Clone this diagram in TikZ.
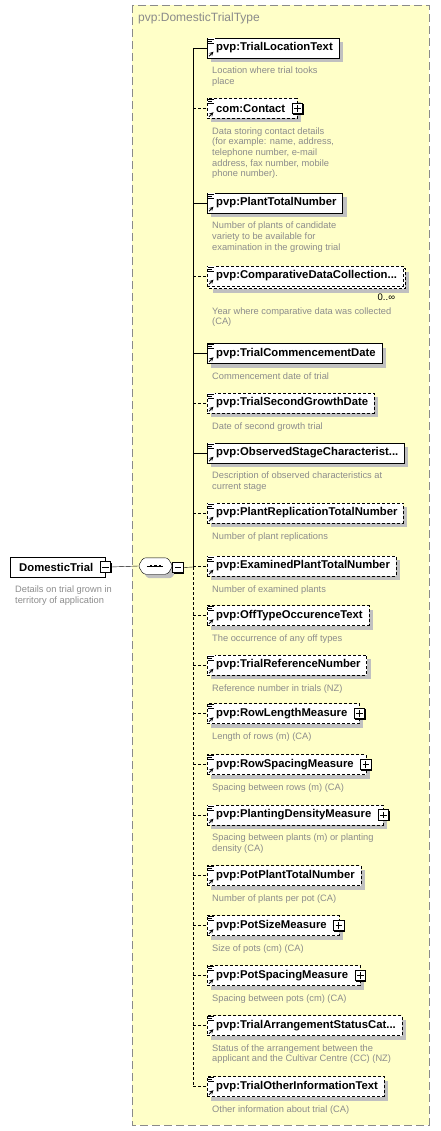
\documentclass[tikz,border=0pt]{standalone}
\usepackage{fontspec}
\setmainfont{Liberation Sans}
\usetikzlibrary{positioning,shadows}
\definecolor{frameyellow}{HTML}{FFFFC8}
\definecolor{framegray}{HTML}{8A8A8A}
\definecolor{descgray}{HTML}{8C8C8C}
\definecolor{shadowgray}{HTML}{C0C0C0}
\pgfdeclarelayer{bg}
\pgfdeclarelayer{back}
\pgfsetlayers{bg,back,main}

\begin{document}
\begin{tikzpicture}[x=1pt,y=-1pt,line width=0.8pt,
  sh/.style={drop shadow={shadow xshift=4pt,shadow yshift=-4pt,fill=shadowgray,opacity=1}},
  elembase/.style={draw,fill=white,minimum height=20pt,inner xsep=0pt,inner ysep=0pt,
    anchor=west,font=\fontsize{11.3}{13}\selectfont\bfseries,
    execute at begin node=\hspace*{9pt}},
  elem/.style={elembase,sh,execute at end node=\hspace*{6pt}},
  elemplus/.style={elembase,sh,execute at end node=\hspace*{12pt}},
  elemmulti/.style={elembase,execute at end node=\hspace*{6pt}},
  opt/.style={dash pattern=on 3pt off 2pt},
  desc/.style={inner sep=0pt,align=left,text=descgray,
    font=\fontsize{9.3}{10.7}\selectfont,execute at begin node=\strut},
  toggle/.style={draw,fill=white,minimum size=10.5pt,inner sep=0pt,line width=0.8pt,
    drop shadow={shadow xshift=0.8pt,shadow yshift=-0.8pt,fill=black,opacity=1}},
  minus/.style={toggle,path picture={
    \draw[line width=0.9pt] ([xshift=2pt]path picture bounding box.west) -- ([xshift=-2pt]path picture bounding box.east);}},
  plus/.style={toggle,path picture={
    \draw[line width=0.9pt] ([xshift=2pt]path picture bounding box.west) -- ([xshift=-2pt]path picture bounding box.east)
      ([yshift=-2pt]path picture bounding box.north) -- ([yshift=2pt]path picture bounding box.south);}},
  >=stealth
]
  \useasboundingbox (0,0) rectangle (440,1131);
  % type frame
  \begin{pgfonlayer}{bg}
    \draw[framegray,fill=frameyellow,dash pattern=on 8pt off 4pt] (132,5) rectangle (429,1125);
  \end{pgfonlayer}
  \node[anchor=west,inner sep=0pt,text=framegray,font=\fontsize{12}{14}\selectfont] (ttl) at (138,18) {pvp:DomesticTrialType};

  % root element and sequence
  \node[draw,fill=white,minimum height=20pt,inner xsep=0pt,anchor=west,font=\fontsize{11.3}{13}\selectfont\bfseries,
    execute at begin node=\hspace*{9pt},execute at end node=\hspace*{12pt}] (root) at (10,567) {DomesticTrial};
  \node[minus] (rootm) at (root.east) {};
  \node[desc,below right=8.5pt and 5pt of root.south west] (rootd) {Details on trial grown in\\territory of application};
  \node[minimum width=34pt,minimum height=16pt,inner sep=0pt] (seq) at (155.5,566) {};
  \path[draw,fill=white,rounded corners=2.5pt,sh]
    (seq.west) -- ([xshift=5pt]seq.north west) -- ([xshift=-5pt]seq.north east) -- (seq.east)
    -- ([xshift=-5pt]seq.south east) -- ([xshift=5pt]seq.south west) -- cycle;
  \node[minus] (seqm) at (178,567.5) {};
  \draw[line width=1pt] ([xshift=8.5pt]seq.west) -- ([xshift=-9.5pt]seq.east);
  \foreach \dx in {-4.5,0,4.5}
    \fill ([xshift=\dx pt]seq.center) ++(-1.3,-1.3) rectangle ++(2.6,2.6);
  \draw (rootm.east) -- (seq.west);

  % child elements
  \node[elem] (E1) at (207,48) {pvp:TrialLocationText};
  \node[elemplus,opt] (E2) at (207,108.5) {com:Contact};
  \node[elem] (E3) at (207,203) {pvp:PlantTotalNumber};
  \node[elemmulti,opt] (E4) at (207,276) {pvp:ComparativeDataCollection...};
  \node[elem] (E5) at (207,353.5) {pvp:TrialCommencementDate};
  \node[elem,opt] (E6) at (207,403) {pvp:TrialSecondGrowthDate};
  \node[elem] (E7) at (207,453) {pvp:ObservedStageCharacterist...};
  \node[elem,opt] (E8) at (207,513) {pvp:PlantReplicationTotalNumber};
  \node[elem,opt] (E9) at (207,566) {pvp:ExaminedPlantTotalNumber};
  \node[elem,opt] (E10) at (207,615.5) {pvp:OffTypeOccurenceText};
  \node[elem,opt] (E11) at (207,665) {pvp:TrialReferenceNumber};
  \node[elemplus,opt] (E12) at (207,713.5) {pvp:RowLengthMeasure};
  \node[elemplus,opt] (E13) at (207,764.5) {pvp:RowSpacingMeasure};
  \node[elemplus,opt] (E14) at (207,815) {pvp:PlantingDensityMeasure};
  \node[elem,opt] (E15) at (207,875.5) {pvp:PotPlantTotalNumber};
  \node[elemplus,opt] (E16) at (207,925.5) {pvp:PotSizeMeasure};
  \node[elemplus,opt] (E17) at (207,975.5) {pvp:PotSpacingMeasure};
  \node[elem,opt] (E18) at (207,1025.5) {pvp:TrialArrangementStatusCat...};
  \node[elem,opt] (E19) at (207,1086.5) {pvp:TrialOtherInformationText};
  \foreach \i in {2,12,13,14,16,17}
    \node[plus] (P\i) at (E\i.east) {};
  % second box behind the repeating element
  \begin{pgfonlayer}{back}
    \path[draw,fill=white,opt,sh] ([shift={(2,2.5)}]E4.north west) rectangle ([shift={(2,2.5)}]E4.south east);
  \end{pgfonlayer}
  \node[anchor=north east,inner sep=0pt,font=\fontsize{9.5}{11}\selectfont] (occ)
    at ([xshift=-8pt,yshift=-7pt]E4.south east) {0..∞};

  % element icons
  \foreach \i in {1,...,19} {
    \fill[white] ([shift={(0.5,0.5)}]E\i.north west) rectangle ++(7,7);
    \draw[line width=0.8pt] ([shift={(1,1.5)}]E\i.north west) -- ++(6,0)
      ([shift={(1,3.5)}]E\i.north west) -- ++(4,0)
      ([shift={(1,5.5)}]E\i.north west) -- ++(6,0);
    \draw[line width=0.9pt,->] ([shift={(2,-2)}]E\i.south west) -- ++(4.5,-4.5);
  }

  % descriptions
  \node[desc,below right=8.5pt and 5pt of E1.south west] (D1) {Location where trial tooks\\place};
  \node[desc,below right=8.5pt and 5pt of E2.south west] (D2) {Data storing contact details\\(for example: name, address,\\telephone number, e-mail\\address, fax number, mobile\\phone number).};
  \node[desc,below right=8.5pt and 5pt of E3.south west] (D3) {Number of plants of candidate\\variety to be available for\\examination in the growing trial};
  \node[desc,below right=21pt and 5pt of E4.south west] (D4) {Year where comparative data was collected\\(CA)};
  \node[desc,below right=8.5pt and 5pt of E5.south west] (D5) {Commencement date of trial};
  \node[desc,below right=8.5pt and 5pt of E6.south west] (D6) {Date of second growth trial};
  \node[desc,below right=8.5pt and 5pt of E7.south west] (D7) {Description of observed characteristics at\\current stage};
  \node[desc,below right=8.5pt and 5pt of E8.south west] (D8) {Number of plant replications};
  \node[desc,below right=8.5pt and 5pt of E9.south west] (D9) {Number of examined plants};
  \node[desc,below right=8.5pt and 5pt of E10.south west] (D10) {The occurrence of any off types};
  \node[desc,below right=8.5pt and 5pt of E11.south west] (D11) {Reference number in trials (NZ)};
  \node[desc,below right=8.5pt and 5pt of E12.south west] (D12) {Length of rows (m) (CA)};
  \node[desc,below right=8.5pt and 5pt of E13.south west] (D13) {Spacing between rows (m) (CA)};
  \node[desc,below right=8.5pt and 5pt of E14.south west] (D14) {Spacing between plants (m) or planting\\density (CA)};
  \node[desc,below right=8.5pt and 5pt of E15.south west] (D15) {Number of plants per pot (CA)};
  \node[desc,below right=8.5pt and 5pt of E16.south west] (D16) {Size of pots (cm) (CA)};
  \node[desc,below right=8.5pt and 5pt of E17.south west] (D17) {Spacing between pots (cm) (CA)};
  \node[desc,below right=8.5pt and 5pt of E18.south west] (D18) {Status of the arrangement between the\\applicant and the Cultivar Centre (CC) (NZ)};
  \node[desc,below right=8.5pt and 5pt of E19.south west] (D19) {Other information about trial (CA)};

  % spine and connectors
  \coordinate (sp) at (193,567);
  \draw (seqm.east) -- (sp);
  \draw (sp |- E1.west) -- (sp);
  \draw[opt] (sp) -- (sp |- E19.west);
  \foreach \i in {1,3,5,7}
    \draw (sp |- E\i.west) -- (E\i.west);
  \foreach \i in {2,4,6,8,9,10,11,12,13,14,15,16,17,18,19}
    \draw[opt] (sp |- E\i.west) -- (E\i.west);
\end{tikzpicture}
\end{document}
